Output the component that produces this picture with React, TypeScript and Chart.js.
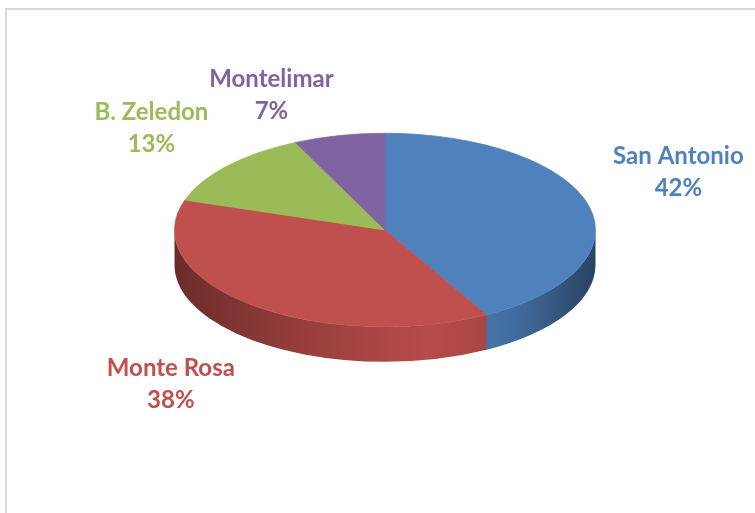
import React, { useEffect, useRef } from "react";
import { Chart, registerables } from "chart.js";

Chart.register(...registerables);

const categories = ["San Antonio", "Monte Rosa", "B. Zeledon", "Montelimar"];
const values = [42, 38, 13, 7];
const colors = ["#4F81BD", "#C0504D", "#9BBB59", "#8064A2"];

const TILT = 97 / 211;
const DEPTH = 35;
const LABEL_FONT = "bold 24px Lato, 'Open Sans', sans-serif";
const LINE_H = 32;
const LABEL_GAP_X = 25;
const LABEL_GAP_UP = 8;
const LABEL_GAP_DOWN = 17;

function shade(hex: string, f: number): string {
  const n = parseInt(hex.slice(1), 16);
  const r = Math.round(((n >> 16) & 255) * f);
  const g = Math.round(((n >> 8) & 255) * f);
  const b = Math.round((n & 255) * f);
  return `rgb(${r},${g},${b})`;
}

const pie3d = {
  id: "pie3d",
  beforeDraw(chart: any) {
    const ctx = chart.ctx;
    ctx.save();
    ctx.fillStyle = "#d9d9d9";
    ctx.fillRect(5, 8, 2, chart.height - 8);
    ctx.fillRect(5, 8, chart.width - 5, 2);
    ctx.restore();
  },
  beforeDatasetsDraw(chart: any) {
    const ctx = chart.ctx;
    const arcs = chart.getDatasetMeta(0).data;
    if (!arcs.length) return;
    const cx = arcs[0].x, cy = arcs[0].y, R = arcs[0].outerRadius, RY = R * TILT;
    const TWO_PI = Math.PI * 2;
    arcs.forEach((arc: any, i: number) => {
      const base = colors[i];
      for (const k of [-1, 0, 1]) {
        const a = Math.max(arc.startAngle + TWO_PI * k, 0);
        const b = Math.min(arc.endAngle + TWO_PI * k + 0.004, Math.PI);
        if (b <= a) continue;
        const grad = ctx.createLinearGradient(cx - R, 0, cx + R, 0);
        grad.addColorStop(0, shade(base, 0.55));
        grad.addColorStop(0.3, shade(base, 0.78));
        grad.addColorStop(0.6, shade(base, 0.95));
        grad.addColorStop(0.8, shade(base, 0.85));
        grad.addColorStop(1, shade(base, 0.52));
        ctx.save();
        ctx.fillStyle = grad;
        ctx.beginPath();
        ctx.ellipse(cx, cy, R, RY, 0, a, b);
        ctx.ellipse(cx, cy + DEPTH, R, RY, 0, b, a, true);
        ctx.closePath();
        ctx.fill();
        ctx.restore();
      }
    });
    ctx.save();
    ctx.translate(cx, cy);
    ctx.scale(1, TILT);
    ctx.translate(-cx, -cy);
  },
  afterDatasetsDraw(chart: any) {
    const ctx = chart.ctx;
    ctx.restore();
    const arcs = chart.getDatasetMeta(0).data;
    if (!arcs.length) return;
    const cx = arcs[0].x, cy = arcs[0].y, R = arcs[0].outerRadius, RY = R * TILT;
    const total = values.reduce((s, v) => s + v, 0);
    ctx.save();
    ctx.font = LABEL_FONT;
    ctx.textAlign = "center";
    ctx.textBaseline = "middle";
    arcs.forEach((arc: any, i: number) => {
      const mid = (arc.startAngle + arc.endAngle) / 2;
      const c = Math.cos(mid), s = Math.sin(mid);
      const ex = cx + R * c;
      const ey = cy + RY * s + (s > 0 ? DEPTH : 0);
      const lines = [categories[i], Math.round((values[i] / total) * 100) + "%"];
      const hw = Math.max(...lines.map((l) => ctx.measureText(l).width)) / 2;
      const hh = (LINE_H * lines.length) / 2;
      const gapY = s > 0 ? LABEL_GAP_DOWN : LABEL_GAP_UP;
      const lx = ex + c * LABEL_GAP_X + Math.sign(c) * hw;
      const ly = ey + s * gapY + Math.sign(s) * hh;
      ctx.fillStyle = colors[i];
      lines.forEach((l, j) => {
        ctx.fillText(l, lx, ly - hh + LINE_H / 2 + j * LINE_H);
      });
    });
    ctx.restore();
  },
};

export default function App() {
  const ref = useRef<HTMLCanvasElement | null>(null);
  useEffect(() => {
    if (!ref.current) return;
    const chart = new Chart(ref.current, {
      type: "pie",
      data: {
        labels: categories,
        datasets: [
          {
            data: values,
            backgroundColor: colors,
            borderColor: colors,
            borderWidth: 1,
            hoverOffset: 0,
            clip: false as any,
          },
        ],
      },
      options: {
        animation: false,
        responsive: true,
        maintainAspectRatio: false,
        events: [],
        layout: { padding: { left: 174, right: 159, top: 19, bottom: 72 } },
        plugins: { legend: { display: false }, tooltip: { enabled: false } },
      },
      plugins: [pie3d],
    });
    return () => chart.destroy();
  }, []);
  return (
    <div style={{ position: "fixed", left: 0, top: 0, width: 755, height: 513, background: "#fff" }}>
      <canvas ref={ref} />
    </div>
  );
}
